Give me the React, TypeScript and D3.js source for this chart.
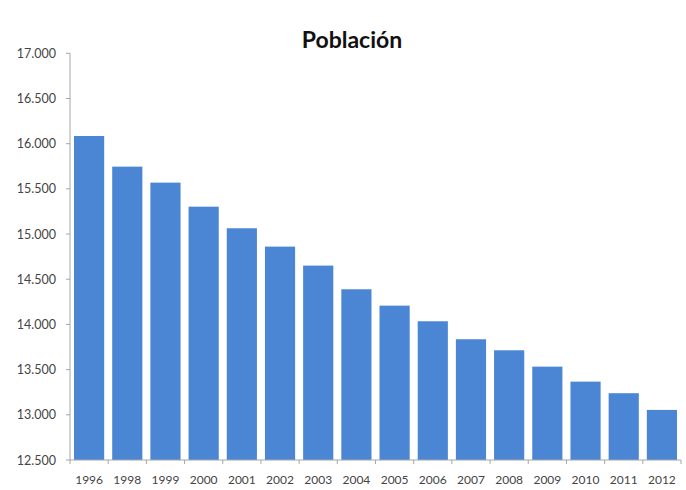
import React from "react";
import * as d3 from "d3";

const years = ["1996","1998","1999","2000","2001","2002","2003","2004","2005","2006","2007","2008","2009","2010","2011","2012"];
const population = [16085,15746,15569,15303,15064,14861,14651,14389,14208,14035,13836,13714,13533,13367,13239,13054];
const yTicks = [12500,13000,13500,14000,14500,15000,15500,16000,16500,17000];
const title = "Población";

const W = 686, H = 490;
const left = 70, right = 681, top = 53.3, bottom = 460;

export default function App() {
  const x = d3.scaleBand<string>().domain(years).range([left, right]).paddingInner(0.21).paddingOuter(0.105);
  const y = d3.scaleLinear().domain([12500, 17000]).range([bottom, top]);
  const fmt = (v: number) => d3.format(",")(v).replace(/,/g, ".");
  const step = x.step();
  const font = "Lato, 'Open Sans', sans-serif";
  return (
    <svg width={W} height={H} style={{ position: "absolute", left: 0, top: 0, background: "#fff" }}>
      <text x={352} y={48} textAnchor="middle" fontFamily={font} fontWeight="bold" fontSize={23} fill="#111">{title}</text>
      {population.map((v, i) => (
        <rect key={years[i]} x={x(years[i])} y={y(v)} width={x.bandwidth()} height={bottom - y(v)} fill="#4A86D4" />
      ))}
      <line x1={left} x2={left} y1={top} y2={bottom} stroke="#a6a6a6" strokeWidth={1} />
      <line x1={left} x2={right} y1={bottom} y2={bottom} stroke="#a6a6a6" strokeWidth={1} />
      {yTicks.map(t => (
        <g key={t}>
          <line x1={left - 4} x2={left} y1={y(t)} y2={y(t)} stroke="#a6a6a6" />
          <text x={56} y={y(t) + 4.5} textAnchor="end" fontFamily={font} fontSize={12.5} fill="#444">{fmt(t)}</text>
        </g>
      ))}
      {years.map((yr, i) => (
        <g key={yr}>
          <line x1={left + i * step} x2={left + i * step} y1={bottom} y2={bottom + 4} stroke="#a6a6a6" />
          <text x={(x(yr) as number) + x.bandwidth() / 2} y={484} textAnchor="middle" fontFamily={font} fontSize={12} fill="#444">{yr}</text>
        </g>
      ))}
      <line x1={right} x2={right} y1={bottom} y2={bottom + 4} stroke="#a6a6a6" />
    </svg>
  );
}
